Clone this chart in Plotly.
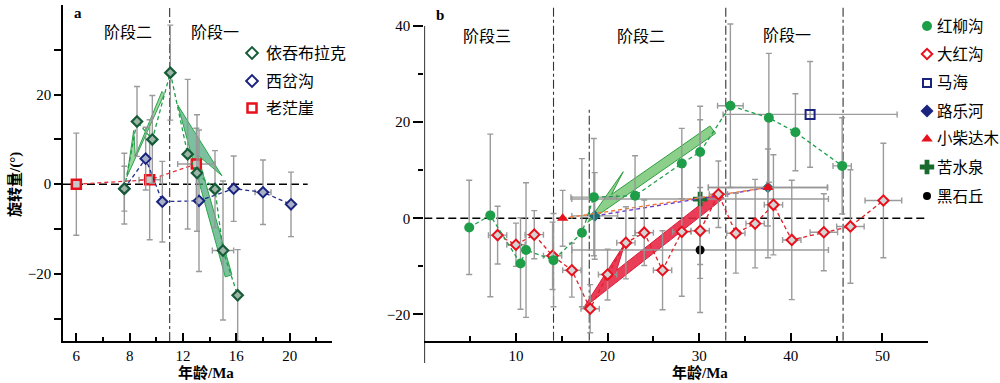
import plotly.graph_objects as go

# ================= Panel a data =================
a_tick_labels = [6, 8, 12, 16, 20]

ytblk_age = [7.8, 8.55, 9.7, 11.05, 12.35, 13.05, 14.4, 15.0, 16.1]
ytblk_rot = [-1.0, 14.0, 10.0, 24.9, 6.7, 2.5, -1.1, -14.8, -24.8]
ytblk_err = [7.9, 7.8, 9.8, 10.6, 16.7, 13.0, 8.6, 15.5, 10.2]
ytblk_xerr = [0, 0, 0, 0, 0, 0, 0, 0.8, 0]

xcg_age = [7.8, 9.2, 10.45, 13.2, 15.8, 18.0, 20.1]
xcg_rot = [-1.0, 5.7, -3.9, -3.7, -1.0, -1.8, -4.5]
xcg_err = [5.0, 7.0, 9.0, 15.8, 7.3, 7.2, 7.2]
xcg_xerr = [0, 0, 0, 0, 0, 0.6, 0]

lmy_age = [6.0, 9.5, 13.0]
lmy_rot = [0.0, 1.0, 4.5]
lmy_err = [11.4, 13.4, 8.0]
lmy_xerr = [0, 0.8, 1.4]

a_arrow1_age = [7.9, 8.3, 8.42, 10.42, 10.6]
a_arrow1_rot = [1.7, 12.0, 6.3, 20.7, 20.15]
a_arrow2_age = [11.6, 14.92, 13.1, 15.67, 15.17]
a_arrow2_rot = [17.7, 1.9, 6.5, -20.2, -20.7]

a_stage_boundary = [11.0]

# ================= Panel b data =================
b_tick_labels = [10, 20, 30, 40, 50]

hlg_age = [4.9, 7.2, 10.5, 11.1, 14.1, 17.2, 18.5, 23.0, 28.1, 30.1, 33.4, 37.6, 40.5, 45.6]
hlg_rot = [-1.9, 0.6, -9.4, -6.6, -8.7, -3.0, 4.4, 4.7, 11.4, 13.8, 23.4, 20.9, 17.9, 10.9]
hlg_err = [9.8, 16.9, 9.5, 14.0, 9.7, 15.4, 12.2, 8.3, 7.3, 9.5, 17.0, 13.4, 8.0, 10.0]
hlg_xerr = [0, 0, 0, 0, 0, 0, 2.5, 0, 0, 0, 1.4, 0, 0, 1.0]

dhg_age = [8.0, 10.0, 12.0, 14.0, 16.1, 18.1, 20.0, 22.0, 24.0, 26.0, 28.1, 30.1,
           32.1, 34.0, 36.1, 38.1, 40.1, 43.6, 46.5, 50.1]
dhg_rot = [-3.5, -5.5, -3.4, -7.8, -10.8, -18.8, -11.7, -5.1, -3.0, -10.8, -2.8, -2.6,
           5.0, -3.1, -1.1, 2.8, -4.5, -2.9, -1.7, 3.7]
dhg_err = [6.0, 4.5, 5.0, 7.0, 5.6, 5.0, 5.3, 7.5, 6.8, 8.2, 13.4, 7.0,
           6.9, 8.3, 9.2, 10.4, 12.4, 8.0, 11.8, 11.9]
dhg_xerr = [1, 1, 1, 1, 1, 1, 1, 1, 1, 1, 1, 1, 1, 1, 1, 1, 1, 1.5, 1.5, 2.0]

mh_age = [42.1]
mh_rot = [21.6]
mh_err = [11.0]
mh_xerr = [9.5]

llh_age = [18.6, 37.5]
llh_rot = [0.5, 6.4]
llh_err = [9.0, 8.0]
llh_xerr = [2.5, 6.5]

xcdm_age = [15.1, 37.5]
xcdm_rot = [0.0, 6.4]
xcdm_err = [5.8, 14.6]
xcdm_xerr = [0, 6.5]

ksq_age = [30.1]
ksq_rot = [4.0]
ksq_err = [16.5]
ksq_xerr = [14.0]

hsq_age = [30.1]
hsq_rot = [-6.6]
hsq_err = [13.0]
hsq_xerr = [14.0]

b_green_arrow_age = [17.83, 21.71, 20.44, 31.17, 31.79]
b_green_arrow_rot = [-0.83, 9.69, 4.97, 19.19, 17.67]
b_red_arrow_age = [17.35, 21.89, 20.99, 31.9, 32.69]
b_red_arrow_rot = [-18.71, -5.2, -10.78, 5.53, 4.22]

b_stage_boundaries = [14.1, 32.9, 45.7]
b_short_boundary = [18.0]
b_short_boundary_top = 23.0

# ================= helpers =================
W, H = 1000, 383
FONT = "Liberation Serif, Noto Sans CJK SC"
EB = "rgba(150,150,150,0.95)"


def pos_a(age):
    # panel a axis is compressed below 8 Ma (6 -> 8 spans half the distance)
    return age if age >= 8 else 8 - 2 * (8 - age)


def px(x):
    return x / W


def py(y):
    return 1 - y / H


def ey(arr):
    return dict(type="data", array=arr, color=EB, thickness=1.4, width=3)


def ex(arr):
    return dict(type="data", array=arr, color=EB, thickness=1.4, width=3)


fig = go.Figure()

# ---- panel a arrows ----
fig.add_trace(go.Scatter(
    x=[pos_a(v) for v in a_arrow1_age] + [pos_a(a_arrow1_age[0])],
    y=a_arrow1_rot + [a_arrow1_rot[0]], mode="lines", fill="toself",
    fillcolor="rgba(120,200,130,0.75)", line=dict(color="#2ca24a", width=1),
    xaxis="x", yaxis="y", showlegend=False, hoverinfo="skip"))
fig.add_trace(go.Scatter(
    x=[pos_a(v) for v in a_arrow2_age] + [pos_a(a_arrow2_age[0])],
    y=a_arrow2_rot + [a_arrow2_rot[0]], mode="lines", fill="toself",
    fillcolor="rgba(70,165,120,0.7)", line=dict(color="#28a745", width=1),
    xaxis="x", yaxis="y", showlegend=False, hoverinfo="skip"))

# ---- panel a series ----
fig.add_trace(go.Scatter(
    x=[pos_a(v) for v in lmy_age], y=lmy_rot, mode="lines+markers",
    line=dict(color="#e8303a", width=1.3, dash="4px,3px"),
    marker=dict(symbol="square", size=9, color="#c8c8c8", line=dict(color="#e8101c", width=2.5)),
    error_y=ey(lmy_err), error_x=ex(lmy_xerr), xaxis="x", yaxis="y", showlegend=False))
fig.add_trace(go.Scatter(
    x=[pos_a(v) for v in xcg_age], y=xcg_rot, mode="lines+markers",
    line=dict(color="#1f2a8c", width=1.3, dash="4px,3px"),
    marker=dict(symbol="diamond", size=8, color="#a8b0c8", line=dict(color="#1a237e", width=2)),
    error_y=ey(xcg_err), error_x=ex(xcg_xerr), xaxis="x", yaxis="y", showlegend=False))
fig.add_trace(go.Scatter(
    x=[pos_a(v) for v in ytblk_age], y=ytblk_rot, mode="lines+markers",
    line=dict(color="#1f9e4a", width=1.3, dash="4px,3px"),
    marker=dict(symbol="diamond", size=8, color="#9db5a6", line=dict(color="#175c38", width=2.2)),
    error_y=ey(ytblk_err), error_x=ex(ytblk_xerr), xaxis="x", yaxis="y", showlegend=False))

# ---- panel b arrows ----
fig.add_trace(go.Scatter(
    x=b_green_arrow_age + [b_green_arrow_age[0]], y=b_green_arrow_rot + [b_green_arrow_rot[0]],
    mode="lines", fill="toself", fillcolor="rgba(110,195,110,0.8)",
    line=dict(color="#2e9e3e", width=1), xaxis="x2", yaxis="y2", showlegend=False, hoverinfo="skip"))
fig.add_trace(go.Scatter(
    x=b_red_arrow_age + [b_red_arrow_age[0]], y=b_red_arrow_rot + [b_red_arrow_rot[0]],
    mode="lines", fill="toself", fillcolor="rgba(232,40,70,0.9)",
    line=dict(color="#d81e3c", width=1), xaxis="x2", yaxis="y2", showlegend=False, hoverinfo="skip"))

# ---- panel b series ----
fig.add_trace(go.Scatter(
    x=hsq_age, y=hsq_rot, mode="markers",
    marker=dict(symbol="circle", size=9, color="#000000"),
    error_y=ey(hsq_err), error_x=ex(hsq_xerr), xaxis="x2", yaxis="y2", showlegend=False))
fig.add_trace(go.Scatter(
    x=ksq_age, y=ksq_rot, mode="markers",
    marker=dict(symbol="cross", size=12, color="#1a6b2e", line=dict(width=0)),
    error_y=ey(ksq_err), error_x=ex(ksq_xerr), xaxis="x2", yaxis="y2", showlegend=False))
fig.add_trace(go.Scatter(
    x=mh_age, y=mh_rot, mode="markers",
    marker=dict(symbol="square-open", size=9, color="#1a237e", line=dict(width=2)),
    error_y=ey(mh_err), error_x=ex(mh_xerr), xaxis="x2", yaxis="y2", showlegend=False))
fig.add_trace(go.Scatter(
    x=llh_age, y=llh_rot, mode="lines+markers",
    line=dict(color="#6a3dd0", width=1.4, dash="4px,3px"),
    marker=dict(symbol="diamond", size=9, color="#1d6f78"),
    error_y=ey(llh_err), error_x=ex(llh_xerr), xaxis="x2", yaxis="y2", showlegend=False))
fig.add_trace(go.Scatter(
    x=xcdm_age, y=xcdm_rot, mode="lines+markers",
    line=dict(color="#f07830", width=1.4, dash="4px,3px"),
    marker=dict(symbol="triangle-up", size=10, color="#e8101c"),
    error_y=ey(xcdm_err), error_x=ex(xcdm_xerr), xaxis="x2", yaxis="y2", showlegend=False))
fig.add_trace(go.Scatter(
    x=dhg_age, y=dhg_rot, mode="lines+markers",
    line=dict(color="#e0202a", width=1.3, dash="4px,3px"),
    marker=dict(symbol="diamond", size=8, color="#d4d4d4", line=dict(color="#e8101c", width=2)),
    error_y=ey(dhg_err), error_x=ex(dhg_xerr), xaxis="x2", yaxis="y2", showlegend=False))
fig.add_trace(go.Scatter(
    x=hlg_age, y=hlg_rot, mode="lines+markers",
    line=dict(color="#1f9e4a", width=1.3, dash="4px,3px"),
    marker=dict(symbol="circle", size=10, color="#1e9e48"),
    error_y=ey(hlg_err), error_x=ex(hlg_xerr), xaxis="x2", yaxis="y2", showlegend=False))

# ---- manual legends (overlay pixel axis) ----
leg_a_names = ["依吞布拉克", "西岔沟", "老茫崖"]
leg_a_rows = [53, 81, 108]
leg_a_sym = [dict(symbol="diamond-open", size=9, color="#175c38", line=dict(width=2)),
             dict(symbol="diamond-open", size=9, color="#1a237e", line=dict(width=2)),
             dict(symbol="square-open", size=9, color="#e8101c", line=dict(width=2.5))]
leg_b_names = ["红柳沟", "大红沟", "马海", "路乐河", "小柴达木", "苦水泉", "黑石丘"]
leg_b_rows = [26, 54, 83, 111, 139, 167, 196]
leg_b_sym = [dict(symbol="circle", size=10, color="#1e9e48"),
             dict(symbol="diamond-open", size=8, color="#e8101c", line=dict(width=2)),
             dict(symbol="square-open", size=8, color="#1a237e", line=dict(width=2)),
             dict(symbol="diamond", size=10, color="#1a237e"),
             dict(symbol="triangle-up", size=10, color="#e8101c"),
             dict(symbol="cross", size=12, color="#1a6b2e", line=dict(width=0)),
             dict(symbol="circle", size=8, color="#000000")]
for r, m in zip(leg_a_rows, leg_a_sym):
    fig.add_trace(go.Scatter(x=[252], y=[r], mode="markers", marker=m, xaxis="x3", yaxis="y3",
                             showlegend=False, hoverinfo="skip", cliponaxis=False))
for r, m in zip(leg_b_rows, leg_b_sym):
    fig.add_trace(go.Scatter(x=[927], y=[r], mode="markers", marker=m, xaxis="x3", yaxis="y3",
                             showlegend=False, hoverinfo="skip", cliponaxis=False))

ann = []
for r, t in zip(leg_a_rows, leg_a_names):
    ann.append(dict(x=px(264), y=py(r), xref="paper", yref="paper", text=t, showarrow=False,
                    xanchor="left", yanchor="middle", font=dict(family=FONT, size=16, color="black")))
for r, t in zip(leg_b_rows, leg_b_names):
    ann.append(dict(x=px(935), y=py(r), xref="paper", yref="paper", text=t, showarrow=False,
                    xanchor="left", yanchor="middle", font=dict(family=FONT, size=15.5, color="black")))

texts = [("a", 78, 13, True, 15), ("阶段二", 128, 33, False, 16), ("阶段一", 215, 33, False, 16),
         ("b", 440, 15, True, 15), ("阶段三", 487, 36, False, 16), ("阶段二", 641, 36, False, 16),
         ("阶段一", 787, 35, False, 16)]
for t, x, y, b, s in texts:
    ann.append(dict(x=px(x), y=py(y), xref="paper", yref="paper",
                    text=f"<b>{t}</b>" if b else t, showarrow=False,
                    xanchor="center", yanchor="middle", font=dict(family=FONT, size=s, color="black")))

# axis titles (panel b has no y title in the reference)
title_font = dict(family=FONT, size=15, color="black")
for (x, y, ang) in [(206, 372, 0), (700, 372, 0), (15, 185, -90)]:
    ann.append(dict(x=px(x), y=py(y), xref="paper", yref="paper",
                    text="<b>年龄/Ma</b>" if ang == 0 else "<b>旋转量/(°)</b>",
                    textangle=ang, showarrow=False, xanchor="center", yanchor="middle",
                    font=title_font))

# ---- shapes: zero lines, stage boundaries, panel-b y axis line ----
A_XR = [3, 23.175]
A_YR = [-35, 40]
B_XR = [0, 55]
B_YR = [-25.45, 44.35]
shapes = []
shapes.append(dict(type="line", xref="x", yref="y", x0=A_XR[0], x1=21.35, y0=0, y1=0,
                   line=dict(color="black", width=1.6, dash="8px,4px"), layer="below"))
shapes.append(dict(type="line", xref="x2", yref="y2", x0=B_XR[0], x1=B_XR[1], y0=0, y1=0,
                   line=dict(color="black", width=1.6, dash="8px,4px"), layer="below"))
for xb in a_stage_boundary:
    shapes.append(dict(type="line", xref="x", yref="y", x0=pos_a(xb), x1=pos_a(xb), y0=A_YR[0], y1=A_YR[1],
                       line=dict(color="#333333", width=1.1, dash="dashdot"), layer="below"))
for xb in b_stage_boundaries:
    shapes.append(dict(type="line", xref="x2", yref="y2", x0=xb, x1=xb, y0=B_YR[0], y1=B_YR[1],
                       line=dict(color="#333333", width=1.1, dash="dashdot"), layer="below"))
for xb in b_short_boundary:
    shapes.append(dict(type="line", xref="x2", yref="y2", x0=xb, x1=xb, y0=B_YR[0], y1=b_short_boundary_top,
                       line=dict(color="#333333", width=1.1, dash="dashdot"), layer="below"))
shapes.append(dict(type="line", xref="x2", yref="paper", x0=0, x1=0, y0=py(363), y1=py(26),
                   line=dict(color="black", width=1.6)))

tickfont = dict(family="Liberation Serif", size=15, color="black")
fig.update_layout(
    width=W, height=H, margin=dict(l=0, r=0, t=0, b=0),
    paper_bgcolor="white", plot_bgcolor="rgba(0,0,0,0)",
    showlegend=False,
    xaxis=dict(domain=[0.063, 0.332], range=A_XR, anchor="y", showline=True, linecolor="black",
               linewidth=1.6, ticks="inside", ticklen=8, tickwidth=1.5, tickcolor="black",
               tickmode="array", tickvals=[pos_a(v) for v in a_tick_labels],
               ticktext=[str(v) for v in a_tick_labels],
               minor=dict(tickmode="array", tickvals=[6, 10, 14, 18, 22], ticks="inside", ticklen=4,
                          tickwidth=1.5, tickcolor="black", showgrid=False),
               showgrid=False, zeroline=False, tickfont=tickfont, fixedrange=True),
    yaxis=dict(domain=[py(341), py(5)], range=A_YR, anchor="x", showline=True, linecolor="black",
               linewidth=1.6, ticks="outside", ticklen=7, tickwidth=1.5, tickcolor="black",
               tickmode="array", tickvals=[-20, 0, 20],
               minor=dict(tickmode="array", tickvals=[-30, -10, 10, 30], ticks="outside", ticklen=7,
                          tickwidth=1.5, tickcolor="black", showgrid=False),
               showgrid=False, zeroline=False, tickfont=tickfont, fixedrange=True),
    xaxis2=dict(domain=[0.4243, 0.9283], range=B_XR, anchor="y2", showline=True, linecolor="black",
                linewidth=1.6, ticks="inside", ticklen=8, tickwidth=1.5, tickcolor="black",
                tickmode="array", tickvals=b_tick_labels,
                minor=dict(tickmode="array", tickvals=[5, 15, 25, 35, 45], ticks="inside", ticklen=5,
                           tickwidth=1.5, tickcolor="black", showgrid=False),
                showgrid=False, zeroline=False, tickfont=tickfont, fixedrange=True),
    yaxis2=dict(domain=[py(340.7), py(5)], range=B_YR, anchor="x2", showline=False,
                ticks="outside", ticklen=10, tickwidth=1.5, tickcolor="black",
                tickmode="array", tickvals=[-20, 0, 20, 40],
                minor=dict(tickmode="array", tickvals=[-10, 10, 30], ticks="outside", ticklen=5,
                           tickwidth=1.5, tickcolor="black", showgrid=False),
                showgrid=False, zeroline=False, tickfont=tickfont, fixedrange=True),
    xaxis3=dict(domain=[0, 1], range=[0, W], anchor="y3", visible=False, fixedrange=True),
    yaxis3=dict(domain=[0, 1], range=[H, 0], anchor="x3", visible=False, fixedrange=True),
    shapes=shapes, annotations=ann,
)

fig.write_html("out.html", config={"displayModeBar": False},
               post_script="document.body.style.margin='0px';")
